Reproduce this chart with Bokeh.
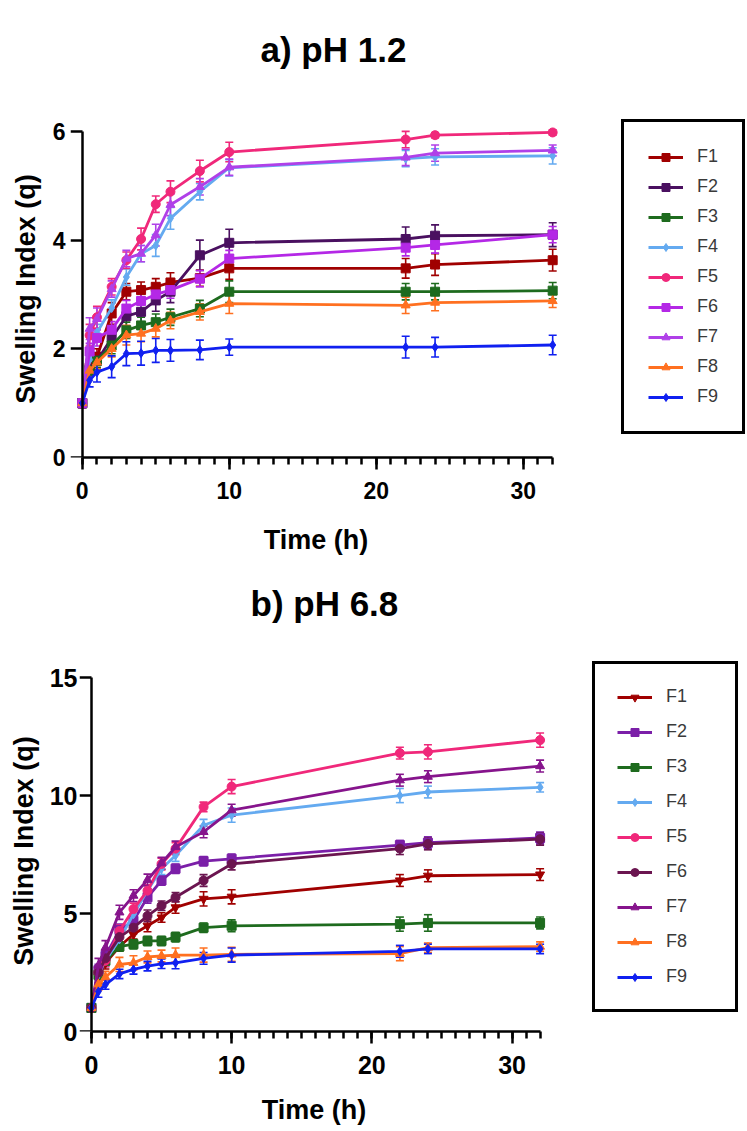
from bokeh.plotting import figure
from bokeh.models import (ColumnDataSource, Whisker, TeeHead, Legend, LegendItem,
                          SingleIntervalTicker, Range1d, LinearAxis, Title,
                          CustomJSTickFormatter)
from bokeh.layouts import column
from bokeh.embed import file_html
from bokeh.resources import INLINE

# ---------------- data ----------------
time_h = [0, 0.5, 1, 2, 3, 4, 5, 6, 8, 10, 22, 24, 32]
labels = ["F1", "F2", "F3", "F4", "F5", "F6", "F7", "F8", "F9"]
title_a = "a) pH 1.2"
title_b = "b) pH 6.8"

# a) pH 1.2  (mean swelling index)
a_F1 = [1.0, 1.65, 1.85, 2.65, 3.05, 3.08, 3.14, 3.22, 3.30, 3.48, 3.48, 3.55, 3.63]
a_F2 = [1.0, 1.62, 1.78, 2.20, 2.60, 2.68, 2.89, 3.05, 3.72, 3.95, 4.02, 4.08, 4.10]
a_F3 = [1.0, 1.60, 1.78, 2.06, 2.34, 2.43, 2.49, 2.58, 2.74, 3.05, 3.05, 3.05, 3.07]
a_F4 = [1.0, 1.80, 2.30, 2.75, 3.32, 3.75, 3.90, 4.40, 4.89, 5.33, 5.50, 5.53, 5.55]
a_F5 = [1.0, 2.25, 2.58, 3.14, 3.63, 4.02, 4.66, 4.89, 5.27, 5.62, 5.85, 5.93, 5.98]
a_F6 = [1.0, 1.95, 2.20, 2.35, 2.74, 2.88, 3.00, 3.08, 3.29, 3.66, 3.86, 3.91, 4.10]
a_F7 = [1.0, 2.37, 2.55, 3.10, 3.66, 3.75, 4.09, 4.65, 4.98, 5.34, 5.52, 5.60, 5.65]
a_F8 = [1.0, 1.60, 1.75, 2.00, 2.25, 2.28, 2.37, 2.52, 2.68, 2.83, 2.80, 2.85, 2.88]
a_F9 = [1.0, 1.42, 1.57, 1.67, 1.91, 1.92, 1.97, 1.97, 1.98, 2.03, 2.03, 2.03, 2.07]

# a) error bars (+/-)
a_F1_err = [0.08, 0.12, 0.15, 0.20, 0.15, 0.15, 0.15, 0.18, 0.15, 0.20, 0.18, 0.20, 0.20]
a_F2_err = [0.08, 0.12, 0.15, 0.20, 0.18, 0.20, 0.20, 0.20, 0.28, 0.25, 0.22, 0.20, 0.22]
a_F3_err = [0.08, 0.10, 0.12, 0.15, 0.15, 0.15, 0.15, 0.15, 0.15, 0.20, 0.15, 0.15, 0.15]
a_F4_err = [0.08, 0.15, 0.15, 0.15, 0.15, 0.15, 0.20, 0.20, 0.15, 0.15, 0.15, 0.15, 0.15]
a_F5_err = [0.08, 0.20, 0.20, 0.15, 0.15, 0.20, 0.15, 0.20, 0.20, 0.18, 0.15, 0.05, 0.05]
a_F6_err = [0.08, 0.15, 0.15, 0.15, 0.15, 0.15, 0.15, 0.15, 0.15, 0.15, 0.15, 0.15, 0.15]
a_F7_err = [0.08, 0.20, 0.20, 0.15, 0.15, 0.15, 0.20, 0.20, 0.15, 0.15, 0.15, 0.15, 0.10]
a_F8_err = [0.08, 0.12, 0.12, 0.15, 0.18, 0.15, 0.15, 0.15, 0.15, 0.18, 0.15, 0.15, 0.12]
a_F9_err = [0.08, 0.12, 0.18, 0.20, 0.22, 0.22, 0.22, 0.20, 0.18, 0.15, 0.20, 0.18, 0.18]

# b) pH 6.8
b_F1 = [1.0, 2.30, 2.90, 3.60, 4.12, 4.48, 4.83, 5.26, 5.62, 5.71, 6.40, 6.60, 6.65]
b_F2 = [1.0, 2.60, 3.20, 4.30, 4.69, 5.69, 6.40, 6.90, 7.22, 7.32, 7.90, 8.00, 8.20]
b_F3 = [1.0, 2.40, 3.00, 3.60, 3.70, 3.84, 3.84, 4.00, 4.40, 4.48, 4.55, 4.60, 4.60]
b_F4 = [1.0, 2.40, 3.00, 3.90, 4.97, 5.97, 6.90, 7.46, 8.74, 9.17, 10.00, 10.15, 10.35]
b_F5 = [1.0, 2.50, 3.00, 4.26, 5.19, 5.97, 7.10, 7.75, 9.52, 10.38, 11.80, 11.85, 12.35]
b_F6 = [1.0, 2.50, 3.10, 4.00, 4.40, 4.90, 5.33, 5.69, 6.40, 7.10, 7.75, 7.95, 8.15]
b_F7 = [1.0, 2.80, 3.55, 5.05, 5.76, 6.42, 7.13, 7.82, 8.46, 9.38, 10.65, 10.80, 11.25]
b_F8 = [1.0, 2.00, 2.30, 2.84, 2.91, 3.16, 3.20, 3.24, 3.24, 3.27, 3.30, 3.55, 3.60]
b_F9 = [1.0, 1.70, 1.99, 2.44, 2.63, 2.77, 2.87, 2.91, 3.10, 3.24, 3.40, 3.50, 3.50]

b_F1_err = [0.15, 0.25, 0.25, 0.20, 0.20, 0.25, 0.20, 0.25, 0.30, 0.30, 0.25, 0.25, 0.25]
b_F2_err = [0.15, 0.25, 0.25, 0.25, 0.25, 0.25, 0.20, 0.20, 0.20, 0.20, 0.20, 0.25, 0.25]
b_F3_err = [0.15, 0.20, 0.20, 0.20, 0.20, 0.20, 0.20, 0.20, 0.20, 0.25, 0.30, 0.35, 0.25]
b_F4_err = [0.15, 0.25, 0.25, 0.25, 0.25, 0.25, 0.25, 0.25, 0.25, 0.30, 0.30, 0.25, 0.20]
b_F5_err = [0.15, 0.25, 0.25, 0.25, 0.25, 0.25, 0.25, 0.25, 0.20, 0.30, 0.25, 0.30, 0.30]
b_F6_err = [0.15, 0.25, 0.25, 0.25, 0.25, 0.25, 0.20, 0.20, 0.25, 0.25, 0.25, 0.25, 0.25]
b_F7_err = [0.15, 0.30, 0.30, 0.30, 0.25, 0.25, 0.25, 0.25, 0.25, 0.25, 0.25, 0.25, 0.25]
b_F8_err = [0.15, 0.25, 0.25, 0.30, 0.30, 0.25, 0.25, 0.30, 0.30, 0.30, 0.30, 0.20, 0.20]
b_F9_err = [0.15, 0.25, 0.20, 0.20, 0.20, 0.20, 0.20, 0.25, 0.25, 0.30, 0.25, 0.20, 0.20]

a_series = [a_F1, a_F2, a_F3, a_F4, a_F5, a_F6, a_F7, a_F8, a_F9]
a_errors = [a_F1_err, a_F2_err, a_F3_err, a_F4_err, a_F5_err, a_F6_err, a_F7_err, a_F8_err, a_F9_err]
b_series = [b_F1, b_F2, b_F3, b_F4, b_F5, b_F6, b_F7, b_F8, b_F9]
b_errors = [b_F1_err, b_F2_err, b_F3_err, b_F4_err, b_F5_err, b_F6_err, b_F7_err, b_F8_err, b_F9_err]

# ---------------- styles ----------------
a_colors = ["#A00000", "#4A1060", "#1E6B1E", "#64AAF0", "#F0287A",
            "#B428E6", "#B040E8", "#FF7020", "#1020F0"]
a_markers = ["square", "square", "square", "diamond", "circle",
             "square", "triangle", "triangle", "diamond"]
b_colors = ["#A00000", "#7B1FA8", "#1E6B1E", "#64AAF0", "#F0287A",
            "#6B1550", "#86148C", "#FF7020", "#1020F0"]
b_markers = ["inverted_triangle", "square", "square", "diamond", "circle",
             "circle", "triangle", "triangle", "diamond"]

FONT = "Liberation Sans"


def style_ticks(ax):
    ax.axis_line_width = 2.5
    ax.axis_line_color = "black"
    ax.major_tick_line_width = 2.5
    ax.major_tick_line_color = "black"
    ax.minor_tick_line_width = 2.5
    ax.minor_tick_line_color = "black"


def style_title(t):
    t.text_font = FONT
    t.text_font_style = "bold"
    t.text_font_size = "35px"
    t.text_color = "black"


def make_panel(series, errors, colors, markers, y_end, y_tick, y_bound,
               x_start, frame_w, frame_h, mb_left, mb_right, mb_top, mb_bottom,
               margin, tick_font, ylab_standoff, ytick_standoff,
               xtick_standoff, xlabel_standoff,
               legend_loc, legend_pad, legend_spacing, legend_label_w):
    p = figure(frame_width=frame_w, frame_height=frame_h, title=None,
               x_range=Range1d(x_start, 32.6), y_range=Range1d(0, y_end),
               output_backend="svg", toolbar_location=None,
               min_border_left=mb_left, min_border_right=mb_right,
               min_border_top=mb_top, min_border_bottom=mb_bottom,
               margin=margin)
    p.grid.visible = False
    p.outline_line_color = None
    p.background_fill_color = "white"
    p.border_fill_color = "white"

    items = []
    for lab, ys, es, c, m in zip(labels, series, errors, colors, markers):
        src = ColumnDataSource(dict(
            t=time_h, y=ys,
            upper=[v + e for v, e in zip(ys, es)],
            lower=[v - e for v, e in zip(ys, es)]))
        r_line = p.line("t", "y", source=src, line_color=c, line_width=2.8)
        r_pt = p.scatter("t", "y", source=src, marker=m, size=9,
                         fill_color=c, line_color=c)
        wk = Whisker(source=src, base="t", upper="upper", lower="lower",
                     dimension="height", line_color=c, line_width=1.6,
                     upper_head=TeeHead(size=8, line_color=c, line_width=1.6),
                     lower_head=TeeHead(size=8, line_color=c, line_width=1.6))
        p.add_layout(wk)
        items.append(LegendItem(label=lab, renderers=[r_line, r_pt]))

    # x axis
    xa = p.xaxis[0]
    xa.ticker = SingleIntervalTicker(interval=10, num_minor_ticks=10)
    xa.bounds = (0, 32)
    xa.axis_label = "Time (h)"
    xa.axis_label_standoff = xlabel_standoff
    style_ticks(xa)
    xa.major_tick_in = 0
    xa.major_tick_out = 12
    xa.minor_tick_in = 0
    xa.minor_tick_out = 7
    xa.major_label_standoff = xtick_standoff

    # y axis: labels only (line and ticks drawn by the axis fixed at t = 0)
    ya = p.yaxis[0]
    ya.ticker = SingleIntervalTicker(interval=y_tick, num_minor_ticks=0)
    ya.axis_label = "Swelling Index (q)"
    ya.axis_label_standoff = ylab_standoff
    ya.axis_line_color = None
    ya.major_tick_line_color = None
    ya.minor_tick_line_color = None
    ya.major_tick_in = 0
    ya.major_tick_out = 0
    ya.minor_tick_in = 0
    ya.minor_tick_out = 0
    ya.major_label_standoff = ytick_standoff

    for ax in (xa, ya):
        ax.major_label_text_font = FONT
        ax.major_label_text_font_style = "bold"
        ax.major_label_text_font_size = tick_font
        ax.major_label_text_color = "black"
        ax.axis_label_text_font = FONT
        ax.axis_label_text_font_style = "bold"
        ax.axis_label_text_font_size = "27px"
        ax.axis_label_text_color = "black"

    leg = Legend(items=items, location=legend_loc)
    leg.border_line_color = "black"
    leg.border_line_alpha = 1.0
    leg.border_line_width = 3
    leg.background_fill_color = "white"
    leg.background_fill_alpha = 1.0
    leg.padding = legend_pad
    leg.spacing = legend_spacing
    leg.margin = 0
    leg.glyph_width = 35
    leg.glyph_height = 20
    leg.label_height = 20
    leg.label_width = legend_label_w
    leg.label_standoff = 14
    leg.label_text_font = FONT
    leg.label_text_font_size = "18px"
    leg.label_text_color = "#3a3a3a"
    p.add_layout(leg, "right")

    # visible y axis line placed at t = 0
    yline = LinearAxis(fixed_location=0,
                       ticker=SingleIntervalTicker(interval=y_tick, num_minor_ticks=0),
                       formatter=CustomJSTickFormatter(code="return ''"),
                       bounds=(0, y_bound))
    style_ticks(yline)
    yline.major_tick_in = 12
    yline.major_tick_out = 0
    yline.minor_tick_in = 0
    yline.minor_tick_out = 0
    yline.major_label_standoff = 0
    p.add_layout(yline, "right")
    return p


pa = make_panel(a_series, a_errors, a_colors, a_markers,
                y_end=6.2, y_tick=2, y_bound=6, x_start=-0.8,
                frame_w=511, frame_h=337, mb_left=90, mb_right=166,
                mb_top=150, mb_bottom=215, margin=(-30, 0, 0, -20),
                tick_font="23px", ylab_standoff=9, ytick_standoff=5,
                xtick_standoff=12, xlabel_standoff=23,
                legend_loc=(60, 23), legend_pad=24, legend_spacing=9,
                legend_label_w=13)
ta = Title(text=title_a, align="left", offset=190, standoff=104)
style_title(ta)
pa.add_layout(ta, "above")
# heading of the second panel sits in the gap under the first panel
tb = Title(text=title_b, align="left", offset=180, standoff=48)
style_title(tb)
pa.add_layout(tb, "below")

pb = make_panel(b_series, b_errors, b_colors, b_markers,
                y_end=15.3, y_tick=5, y_bound=15, x_start=-0.85,
                frame_w=478, frame_h=361, mb_left=90, mb_right=190,
                mb_top=30, mb_bottom=96, margin=(-32, 0, 0, -11),
                tick_font="25px", ylab_standoff=8, ytick_standoff=2,
                xtick_standoff=12, xlabel_standoff=18,
                legend_loc=(44, 19), legend_pad=22, legend_spacing=14,
                legend_label_w=47)

layout = column(pa, pb, spacing=0)
open("out.html", "w").write(file_html(layout, INLINE))
